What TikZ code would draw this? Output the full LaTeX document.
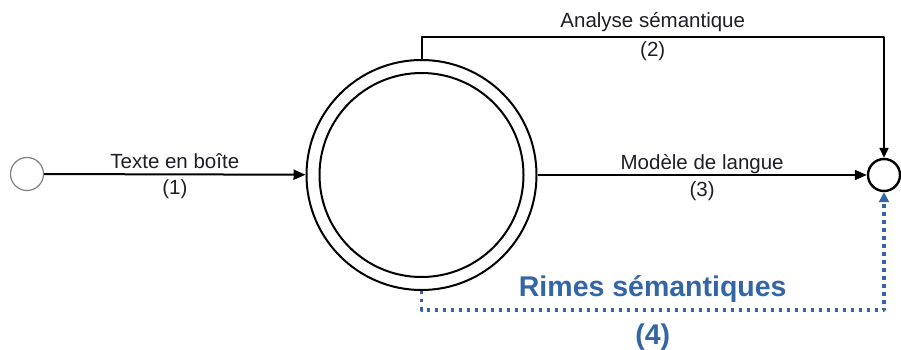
\documentclass[tikz,border=0pt]{standalone}
\usepackage{fontspec}
\setmainfont{Liberation Sans}
\usetikzlibrary{arrows.meta}
\definecolor{rimeblue}{RGB}{52,101,164}
\definecolor{labelgray}{RGB}{30,30,40}

\begin{document}
\begin{tikzpicture}[x=1pt,y=-1pt,line join=round,
  lbl/.style={font=\fontsize{20.5}{23}\selectfont, text=labelgray, text depth=0pt},
  blbl/.style={font=\fontsize{28.5}{31}\selectfont\bfseries, text=rimeblue, text depth=0pt}]

\useasboundingbox (0,0) rectangle (901,350);

% states
\node (start) at (27,174) [circle, draw=gray, line width=1.2pt, minimum size=33pt, inner sep=0] {};
\node (state) at (421.5,175) [circle, draw, line width=2pt, minimum size=230pt, inner sep=0] {};
\node (inner) at (421.5,175) [circle, draw, line width=2pt, minimum size=204pt, inner sep=0] {};
\node (final) at (884,175) [circle, draw, line width=2.4pt, minimum size=32pt, inner sep=0] {};

% transitions
\draw[-{Triangle[length=12pt,width=10pt]}, line width=2pt]
(start) -- node[lbl, above=1.5pt] {Texte en boîte} node[lbl, below=0.5pt] {(1)} (state);

\draw[-{Triangle[length=12pt,width=10pt]}, line width=2pt]
(state) -- node[lbl, above=1.5pt] {Modèle de langue} node[lbl, below=2.5pt] {(3)} (final);

\draw[-{Triangle[length=10pt,width=9pt]}, line width=2pt]
(state.north) -- +(0,-22) coordinate (topleft)
-- node[lbl, above=5.5pt] {Analyse sémantique} node[lbl, below=0.5pt] {(2)} (topleft -| final)
-- (final);

\draw[-{Triangle[length=10pt,width=10pt]}, rimeblue, line width=3.4pt, dash pattern=on 3.4pt off 4.6pt]
(state.south) -- +(0,19) coordinate (botleft)
-- node[blbl, above=8pt] {Rimes sémantiques} node[blbl, below=9pt] {(4)} (botleft -| final)
-- (final);

\end{tikzpicture}
\end{document}
